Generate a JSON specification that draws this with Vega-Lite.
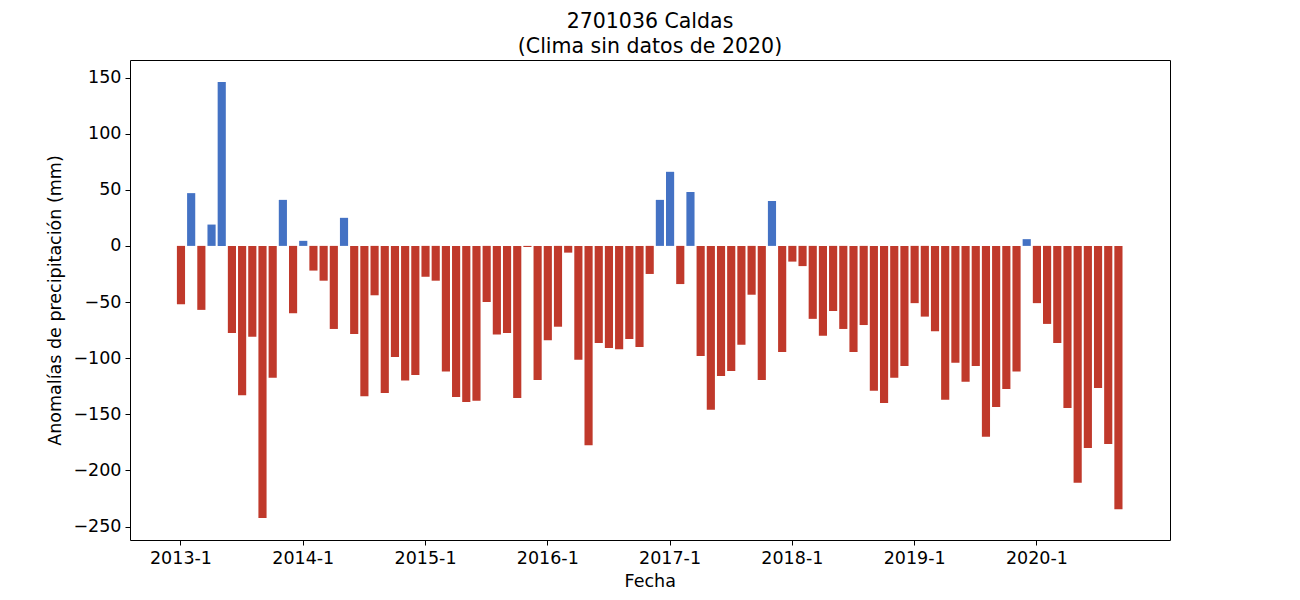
{
  "$schema": "https://vega.github.io/schema/vega-lite/v6.json",
  "width": 1040,
  "height": 480,
  "autosize": {"type": "none"},
  "padding": {"left": 130, "top": 60, "right": 130, "bottom": 60},
  "title": {"text": ["2701036 Caldas", "(Clima sin datos de 2020)"], "fontSize": 20.5, "font": "DejaVu Sans", "fontWeight": "normal", "color": "#000000", "anchor": "middle", "offset": 3, "lineHeight": 24.5},
  "data": {"values": [
    {"fecha": "2013-1", "anomalia": -52}, {"fecha": "2013-2", "anomalia": 47}, {"fecha": "2013-3", "anomalia": -57}, {"fecha": "2013-4", "anomalia": 19}, {"fecha": "2013-5", "anomalia": 146}, {"fecha": "2013-6", "anomalia": -77.5}, {"fecha": "2013-7", "anomalia": -133}, {"fecha": "2013-8", "anomalia": -81}, {"fecha": "2013-9", "anomalia": -242.5}, {"fecha": "2013-10", "anomalia": -117.5}, {"fecha": "2013-11", "anomalia": 41}, {"fecha": "2013-12", "anomalia": -60},
    {"fecha": "2014-1", "anomalia": 4.5}, {"fecha": "2014-2", "anomalia": -22}, {"fecha": "2014-3", "anomalia": -31}, {"fecha": "2014-4", "anomalia": -74}, {"fecha": "2014-5", "anomalia": 25}, {"fecha": "2014-6", "anomalia": -78.5}, {"fecha": "2014-7", "anomalia": -134}, {"fecha": "2014-8", "anomalia": -44}, {"fecha": "2014-9", "anomalia": -131}, {"fecha": "2014-10", "anomalia": -99}, {"fecha": "2014-11", "anomalia": -120}, {"fecha": "2014-12", "anomalia": -115},
    {"fecha": "2015-1", "anomalia": -27.5}, {"fecha": "2015-2", "anomalia": -31}, {"fecha": "2015-3", "anomalia": -112}, {"fecha": "2015-4", "anomalia": -134.5}, {"fecha": "2015-5", "anomalia": -139}, {"fecha": "2015-6", "anomalia": -138}, {"fecha": "2015-7", "anomalia": -50}, {"fecha": "2015-8", "anomalia": -79}, {"fecha": "2015-9", "anomalia": -77.5}, {"fecha": "2015-10", "anomalia": -135.5}, {"fecha": "2015-11", "anomalia": -1}, {"fecha": "2015-12", "anomalia": -119.5},
    {"fecha": "2016-1", "anomalia": -84}, {"fecha": "2016-2", "anomalia": -72}, {"fecha": "2016-3", "anomalia": -6}, {"fecha": "2016-4", "anomalia": -101.5}, {"fecha": "2016-5", "anomalia": -177.5}, {"fecha": "2016-6", "anomalia": -86.5}, {"fecha": "2016-7", "anomalia": -91}, {"fecha": "2016-8", "anomalia": -92}, {"fecha": "2016-9", "anomalia": -83}, {"fecha": "2016-10", "anomalia": -90}, {"fecha": "2016-11", "anomalia": -25}, {"fecha": "2016-12", "anomalia": 41},
    {"fecha": "2017-1", "anomalia": 66}, {"fecha": "2017-2", "anomalia": -34}, {"fecha": "2017-3", "anomalia": 48}, {"fecha": "2017-4", "anomalia": -98}, {"fecha": "2017-5", "anomalia": -146}, {"fecha": "2017-6", "anomalia": -116}, {"fecha": "2017-7", "anomalia": -111.5}, {"fecha": "2017-8", "anomalia": -88}, {"fecha": "2017-9", "anomalia": -43.5}, {"fecha": "2017-10", "anomalia": -119.5}, {"fecha": "2017-11", "anomalia": 40}, {"fecha": "2017-12", "anomalia": -94.5},
    {"fecha": "2018-1", "anomalia": -14}, {"fecha": "2018-2", "anomalia": -18}, {"fecha": "2018-3", "anomalia": -65}, {"fecha": "2018-4", "anomalia": -80}, {"fecha": "2018-5", "anomalia": -58}, {"fecha": "2018-6", "anomalia": -74}, {"fecha": "2018-7", "anomalia": -94.5}, {"fecha": "2018-8", "anomalia": -70.5}, {"fecha": "2018-9", "anomalia": -129}, {"fecha": "2018-10", "anomalia": -140}, {"fecha": "2018-11", "anomalia": -117.5}, {"fecha": "2018-12", "anomalia": -107},
    {"fecha": "2019-1", "anomalia": -51}, {"fecha": "2019-2", "anomalia": -63}, {"fecha": "2019-3", "anomalia": -76}, {"fecha": "2019-4", "anomalia": -137}, {"fecha": "2019-5", "anomalia": -104}, {"fecha": "2019-6", "anomalia": -121}, {"fecha": "2019-7", "anomalia": -107}, {"fecha": "2019-8", "anomalia": -170}, {"fecha": "2019-9", "anomalia": -143.5}, {"fecha": "2019-10", "anomalia": -127.5}, {"fecha": "2019-11", "anomalia": -112}, {"fecha": "2019-12", "anomalia": 6},
    {"fecha": "2020-1", "anomalia": -51}, {"fecha": "2020-2", "anomalia": -69.5}, {"fecha": "2020-3", "anomalia": -86.5}, {"fecha": "2020-4", "anomalia": -144.5}, {"fecha": "2020-5", "anomalia": -211}, {"fecha": "2020-6", "anomalia": -180}, {"fecha": "2020-7", "anomalia": -126.5}, {"fecha": "2020-8", "anomalia": -176.5}, {"fecha": "2020-9", "anomalia": -234.5}
  ]},
  "mark": {"type": "bar"},
  "encoding": {
    "x": {
      "field": "fecha", "type": "ordinal", "sort": null,
      "scale": {"paddingInner": 0.2, "paddingOuter": 0, "range": [46.9, 992.5]},
      "axis": {"values": ["2013-1", "2014-1", "2015-1", "2016-1", "2017-1", "2018-1", "2019-1", "2020-1"], "labelAngle": 0, "title": "Fecha", "titlePadding": 6}
    },
    "y": {
      "field": "anomalia", "type": "quantitative",
      "scale": {"domain": [-262, 165.6], "nice": false, "zero": false},
      "axis": {"values": [-250, -200, -150, -100, -50, 0, 50, 100, 150], "title": "Anomalías de precipitación (mm)", "titlePadding": 8}
    },
    "color": {"condition": {"test": "datum.anomalia > 0", "value": "#4472C4"}, "value": "#C0392B"}
  },
  "config": {
    "view": {"stroke": "#000000", "strokeWidth": 1},
    "axis": {
      "grid": false, "domain": false,
      "tickColor": "#000000", "tickSize": 5, "tickWidth": 1,
      "labelFont": "DejaVu Sans", "labelFontSize": 17.5, "labelColor": "#000000", "labelPadding": 4,
      "titleFont": "DejaVu Sans", "titleFontSize": 17.5, "titleFontWeight": "normal", "titleColor": "#000000"
    }
  }
}
